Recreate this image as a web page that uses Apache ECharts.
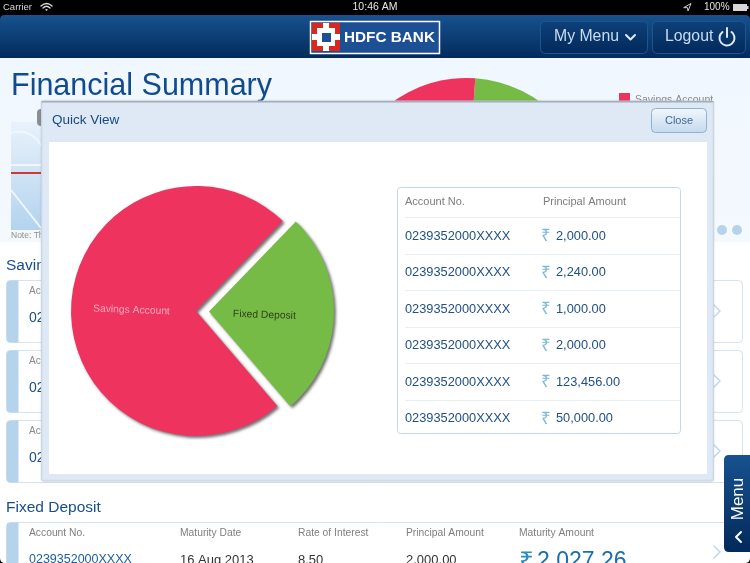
<!DOCTYPE html>
<html>
<head>
<meta charset="utf-8">
<title>Quick View</title>
<style>
html, body { margin: 0; padding: 0; background: #fff; }
#main { width: 750px; height: 563px; }
</style>
<script src="https://cdn.jsdelivr.net/npm/echarts@6/dist/echarts.min.js"></script>
</head>
<body>
<div id="main"></div>
<script>
// pie data
var categories = ['Fixed Deposit', 'Savings Account'];
var shares = [26.5, 73.5];
var sliceColors = ['#77bb47', '#ef335f'];
var labelColors = ['#2f3d1a', '#f3a9bd'];

// quick view table
var tableHeaders = ['Account No.', 'Principal Amount'];
var accountNos = ['0239352000XXXX', '0239352000XXXX', '0239352000XXXX', '0239352000XXXX', '0239352000XXXX', '0239352000XXXX'];
var principals = ['2,000.00', '2,240.00', '1,000.00', '2,000.00', '123,456.00', '50,000.00'];

// fixed deposit strip at the bottom of the page
var fdHeaders = ['Account No.', 'Maturity Date', 'Rate of Interest', 'Principal Amount', 'Maturity Amount'];
var fdRow = ['0239352000XXXX', '16 Aug 2013', '8.50', '2,000.00', '2,027.26'];

var FONT = '"Liberation Sans", Arial, sans-serif';
var els = [];
var pathCount = 0;

function grad(top, bottom) {
    return { type: 'linear', x: 0, y: 0, x2: 0, y2: 1, colorStops: [{ offset: 0, color: top }, { offset: 1, color: bottom }] };
}
function rect(x, y, w, h, fill, z, opts) {
    opts = opts || {};
    var el = {
        type: 'rect', silent: true, z: z,
        shape: { x: x, y: y, width: w, height: h, r: opts.r || 0 },
        style: { fill: fill, stroke: opts.stroke || null, lineWidth: opts.lineWidth || 1 }
    };
    if (opts.shadow) {
        el.style.shadowBlur = opts.shadow;
        el.style.shadowColor = opts.shadowColor;
        el.style.shadowOffsetY = opts.shadowY || 0;
    }
    els.push(el);
}
function txt(x, y, text, size, color, z, opts) {
    opts = opts || {};
    els.push({
        type: 'text', silent: true, z: z, x: x, y: y, rotation: opts.rotation || 0,
        style: {
            text: text, fill: color,
            font: (opts.weight || 'normal') + ' ' + size + 'px ' + FONT,
            textAlign: opts.align || 'left', textVerticalAlign: 'middle'
        }
    });
}
// the graphic component has no plain path type, so each icon gets its own shape
function path(d, fill, stroke, z, lw) {
    var name = 'icon' + (pathCount++);
    echarts.graphic.registerShape(name, echarts.graphic.extendPath(d, {}));
    els.push({
        type: name, silent: true, z: z, shape: {},
        style: { fill: fill || 'none', stroke: stroke || 'none', lineWidth: lw || 1, lineCap: 'round', lineJoin: 'round' }
    });
}
function hline(x1, x2, y, color, z) {
    rect(x1, y, x2 - x1, 1, color, z);
}

// ---------- page behind the dialog
rect(0, 0, 750, 563, '#ffffff', 0);
rect(0, 58, 750, 184, grad('#f0f7fe', '#f4f9fe'), 0);
rect(0, 15, 750, 43, grad('#17528f', '#032b5c'), 0);
rect(0, 0, 750, 15, '#000000', 0);
path('M0 15 L5 15 Q0 15 0 20 Z', '#000', null, 0);
path('M750 15 L745 15 Q750 15 750 20 Z', '#000', null, 0);
path('M0 563 L0 558 Q0 563 5 563 Z', '#000', null, 9);
path('M750 563 L750 558 Q750 563 745 563 Z', '#000', null, 9);

// status bar
txt(3, 7.5, 'Carrier', 9.5, '#d8d8d8', 1);
path('M41 6 Q46.5 1 52 6 M43 8 Q46.5 4.5 50 8', null, '#d8d8d8', 1, 1.4);
path('M46.5 11 L45 9.5 Q46.5 8.3 48 9.5 Z', '#d8d8d8', null, 1);
txt(375, 7.5, '10:46 AM', 10.5, '#e6e6e6', 1, { align: 'center' });
path('M684 7.5 L691 3.5 L688 11 L687.5 8 Z', null, '#cfcfcf', 1, 1);
txt(704, 7.5, '100%', 10, '#e0e0e0', 1);
rect(733, 4, 14, 7, '#d8d8d8', 1);
rect(747, 6, 1.5, 3, '#d8d8d8', 1);

// logo
rect(310.5, 21.5, 129, 32, '#1c4f93', 1, { stroke: '#ffffff', lineWidth: 1.5 });
rect(312, 23, 28, 28, '#d9291f', 1);
rect(323, 23, 6, 28, '#ffffff', 1);
rect(312, 34, 28, 6, '#ffffff', 1);
rect(317, 28, 18, 18, '#ffffff', 1);
rect(322, 33, 9, 9, '#1c4f93', 1);
txt(344, 37.5, 'HDFC BANK', 15.3, '#ffffff', 1, { weight: 'bold' });

// header buttons
rect(540.5, 21.5, 107, 32, grad('#0e417a', '#02295a'), 1, { r: 5, stroke: '#1d568f' });
txt(554, 37, 'My Menu', 15.8, '#cbdcf1', 1);
path('M626 35 L630.5 39.5 L635 35', null, '#dfeaf7', 1, 2);
rect(652.5, 21.5, 93, 32, grad('#0e417a', '#02295a'), 1, { r: 5, stroke: '#1d568f' });
txt(665, 37, 'Logout', 15.8, '#cbdcf1', 1);
path('M722.5 32 A7.5 7.5 0 1 0 731.5 32', null, '#dfeaf7', 1, 2);
path('M727 28 L727 37', null, '#dfeaf7', 1, 2);

// summary behind the dialog
txt(11, 87, 'Financial Summary', 30.5, '#0f4b8e', 1);
rect(11, 122, 45, 108, grad('#e8f2fb', '#b3d3ef'), 1);
rect(11, 172, 45, 2, '#cc3a38', 1);
path('M11 133 Q30 128 41 145 M11 165 L41 165 M11 190 L41 228', null, '#f0f6fc', 1, 2);
rect(37, 109, 8, 17, '#8b8f93', 1, { r: 4 });
txt(11, 235.5, 'Note: The', 8.5, '#8d8d8d', 1);
rect(717, 225, 10, 10, '#b6d3ec', 1, { r: 5 });
rect(732, 225, 10, 10, '#b6d3ec', 1, { r: 5 });

// savings account cards
txt(6, 266, 'Savings Account', 15.5, '#174f8a', 1);
var cardTops = [280, 350, 420];
cardTops.forEach(function (top) {
    rect(6.5, top + 0.5, 736, 62, '#ffffff', 1, { r: 4, stroke: '#d5e3f0' });
    rect(6.5, top + 0.5, 12, 62, '#b6d3ec', 1, { r: [4, 0, 0, 4] });
    txt(29, top + 11, 'Account No.', 10, '#8a8a8a', 1);
    txt(29, top + 38, accountNos[0], 14, '#1b4f8a', 1);
    path('M714 ' + (top + 25) + ' L720 ' + (top + 31) + ' L714 ' + (top + 37), null, '#c2d7ea', 1, 1.5);
});

// fixed deposit strip
txt(6, 508, 'Fixed Deposit', 15.5, '#174f8a', 1);
rect(6.5, 522.5, 760, 60, '#ffffff', 1, { r: 4, stroke: '#d5e3f0' });
rect(6.5, 522.5, 12, 60, '#b6d3ec', 1, { r: [4, 0, 0, 4] });
var fdCols = [29, 180, 298, 406, 519];
fdHeaders.forEach(function (h, i) {
    txt(fdCols[i], 533.5, h, 10.3, '#7f7f7f', 1);
});
txt(fdCols[0], 560, fdRow[0], 12.5, '#1b5d9e', 1);
txt(fdCols[1], 560, fdRow[1], 13, '#333333', 1);
txt(fdCols[2], 560, fdRow[2], 13, '#333333', 1);
txt(fdCols[3], 560, fdRow[3], 13, '#333333', 1);
txt(fdCols[4], 563, '₹', 26, '#2b8fc6', 1);
txt(fdCols[4] + 18, 562, fdRow[4], 23, '#1a6fb0', 1);
path('M714 546 L720 552 L714 558', null, '#c2d7ea', 1, 1.5);

// side menu tab
path('M750 455 L729 455 Q724 455 724 460 L724 547 Q724 552 729 552 L750 552 Z', grad('#17528f', '#022a5a'), null, 8);
txt(738, 499, 'Menu', 17, '#ffffff', 8, { rotation: Math.PI / 2, align: 'center' });
path('M741 532 L736 537 L741 542', null, '#ffffff', 8, 2);

// ---------- dialog
rect(41.5, 101, 672, 380, '#dfe9f6', 5, { r: 2, stroke: '#c8d6e6', shadow: 2, shadowColor: 'rgba(0,0,0,0.12)' });
rect(41.5, 101, 672, 1.5, '#a4afba', 5);
rect(49, 142, 658, 332, '#ffffff', 5);
txt(52, 120, 'Quick View', 13.5, '#164a83', 6);
rect(651.5, 108.5, 55, 24, grad('#f2f7fc', '#c4d9ee'), 6, { r: 4, stroke: '#8fb2d2' });
txt(679, 120.5, 'Close', 11, '#3f6a96', 6, { align: 'center' });

// table box
rect(397.5, 187.5, 283, 246, '#ffffff', 6, { r: 3, stroke: '#c3d7ea' });
txt(405, 201.5, tableHeaders[0], 11, '#7d7d7d', 6);
txt(543, 201.5, tableHeaders[1], 11, '#7d7d7d', 6);
accountNos.forEach(function (no, i) {
    var y = 217 + i * 36.5;
    hline(405, 680, Math.round(y), '#e6eef6', 6);
    txt(405, y + 19, no, 12.8, '#1f4f86', 6);
    txt(541, y + 19.5, '₹', 17, '#7fb9da', 6);
    txt(556, y + 19, principals[i], 12.8, '#1f4f86', 6);
});

var pieData = categories.map(function (name, i) {
    return { name: name, value: shares[i], itemStyle: { color: sliceColors[i] } };
});

var chart = echarts.init(document.getElementById('main'));
chart.setOption({
    animation: false,
    graphic: { elements: els },
    legend: {
        z: 2, left: 619, top: 93, padding: 0, orient: 'vertical', itemWidth: 11, itemHeight: 14, itemGap: 8,
        data: ['Savings Account', 'Fixed Deposit'], selectedMode: false,
        icon: 'rect',
        textStyle: { fontFamily: FONT, fontSize: 10.5, color: '#8a8a8a' }
    },
    series: [
        {
            // the summary pie, mostly covered by the dialog
            type: 'pie', z: 2, silent: true, legendHoverLink: false,
            center: [466.5, 204], radius: 126, startAngle: 86, clockwise: true,
            label: { show: false }, labelLine: { show: false },
            data: pieData
        },
        {
            type: 'pie', z: 10, silent: true, legendHoverLink: false,
            center: [196, 311], radius: 125, startAngle: 46, clockwise: true,
            selectedMode: 'single', selectedOffset: 13,
            itemStyle: { shadowBlur: 3, shadowOffsetX: 2, shadowOffsetY: 2, shadowColor: 'rgba(0,0,0,0.55)' },
            labelLine: { show: false },
            labelLayout: function (params) {
                return params.dataIndex === 0 ? { dx: -10, dy: 2 } : { dx: 1, dy: 1 };
            },
            data: pieData.map(function (d, i) {
                return {
                    name: d.name, value: d.value, itemStyle: d.itemStyle,
                    selected: i === 0,
                    label: {
                        show: true, position: 'inside', rotate: -2,
                        fontFamily: FONT, fontSize: 10.3, color: labelColors[i]
                    }
                };
            })
        }
    ]
});
</script>
</body>
</html>
